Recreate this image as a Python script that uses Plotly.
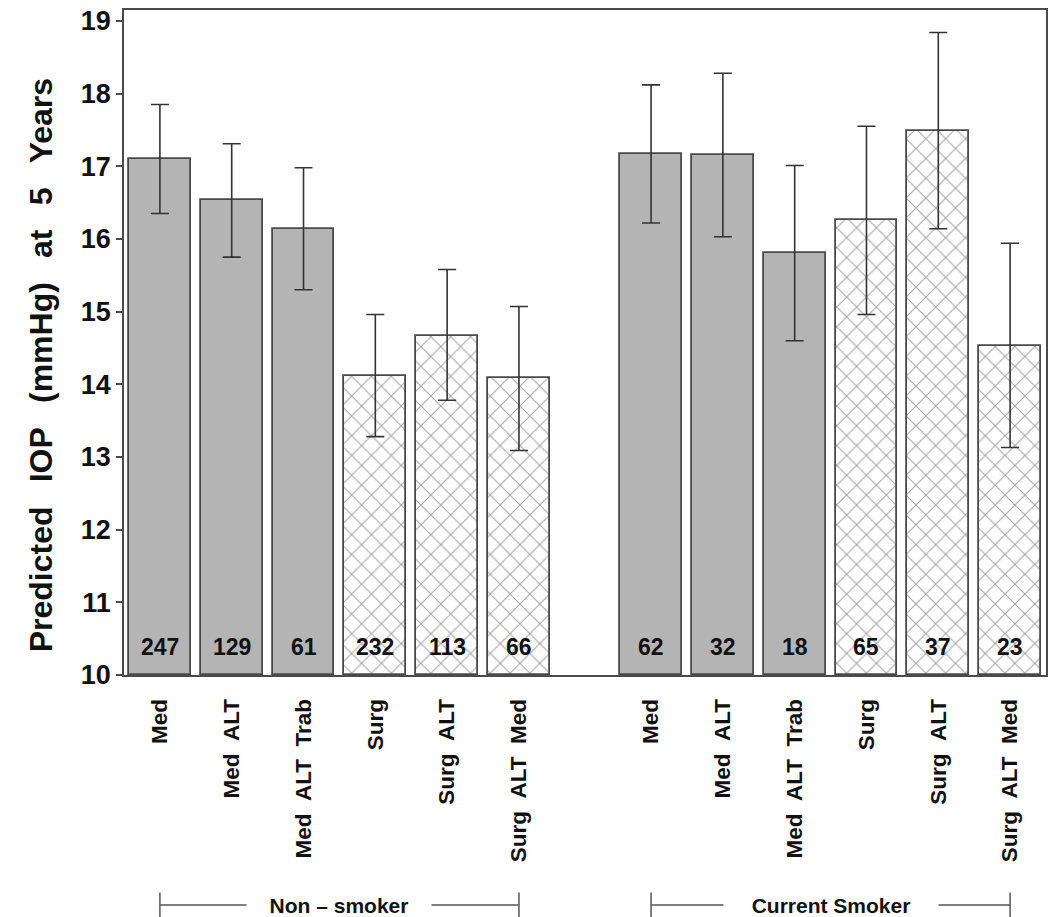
import plotly.graph_objects as go

# ---------------- data ----------------
groups = ["Non – smoker", "Current Smoker"]
treatments = ["Med", "Med ALT", "Med ALT Trab", "Surg", "Surg ALT", "Surg ALT Med"]

nonsmoker_mean = [17.10, 16.53, 16.14, 14.12, 14.67, 14.09]
nonsmoker_lower = [16.35, 15.75, 15.30, 13.28, 13.78, 13.09]
nonsmoker_upper = [17.85, 17.31, 16.98, 14.96, 15.58, 15.07]
nonsmoker_n = [247, 129, 61, 232, 113, 66]

smoker_mean = [17.17, 17.15, 15.80, 16.26, 17.49, 14.53]
smoker_lower = [16.22, 16.03, 14.60, 14.96, 16.14, 13.13]
smoker_upper = [18.12, 18.28, 17.01, 17.55, 18.84, 15.94]
smoker_n = [62, 32, 18, 65, 37, 23]

y_ticks = [10, 11, 12, 13, 14, 15, 16, 17, 18, 19]

# ---------------- layout constants ----------------
GROUP_GAP = 1.84          # extra spacing between the two groups (in bar pitches)
BAR_WIDTH = 0.86
FONT = "Liberation Sans, Arial, sans-serif"
LINE = "#4a4a4a"
SOLID_FILL = "#b4b4b4"

n_t = len(treatments)
x_pos = [i for i in range(n_t)] + [n_t - 1 + GROUP_GAP + i for i in range(n_t)]
means = nonsmoker_mean + smoker_mean
lowers = nonsmoker_lower + smoker_lower
uppers = nonsmoker_upper + smoker_upper
counts = nonsmoker_n + smoker_n
labels = treatments + treatments

is_surg = [t.startswith("Surg") for t in labels]
fill = ["white" if s else SOLID_FILL for s in is_surg]
shapes_pat = ["x" if s else "" for s in is_surg]

fig = go.Figure()
fig.add_trace(go.Bar(
    x=x_pos,
    y=[m - y_ticks[0] for m in means],
    base=y_ticks[0],
    width=BAR_WIDTH,
    marker=dict(
        color=fill,
        line=dict(color=LINE, width=1.8),
        pattern=dict(shape=shapes_pat, fgcolor="#999999", bgcolor="white",
                     size=14, solidity=0.14),
    ),
    error_y=dict(
        type="data", symmetric=False,
        array=[u - m for u, m in zip(uppers, means)],
        arrayminus=[m - l for m, l in zip(means, lowers)],
        color="#333333", thickness=1.6, width=9,
    ),
    showlegend=False,
    hoverinfo="skip",
))

annotations = []
for x, n in zip(x_pos, counts):
    annotations.append(dict(
        x=x, y=10.385, xref="x", yref="y", text=f"<b>{n}</b>", showarrow=False,
        font=dict(family=FONT, size=23, color="#111111"),
    ))

# y axis title
sep = "\u00a0\u00a0\u2009"
annotations.append(dict(
    xref="paper", yref="paper", x=-0.0898, y=0.466,
    text="<b>" + sep.join(["Predicted", "IOP", "(mmHg)", "at", "5", "Years"]) + "</b>",
    textangle=-90, showarrow=False, xanchor="center", yanchor="middle",
    font=dict(family=FONT, size=32, color="#111111"),
))

# group brackets
shapes = []
y_line = -0.3459
y_t0, y_t1 = -0.327, -0.37
group_widths = [184, 214]
for g, name in enumerate(groups):
    xs = x_pos[g * n_t:(g + 1) * n_t]
    x0, x1 = xs[0], xs[-1]
    shapes.append(dict(type="line", xref="x", yref="paper", x0=x0, x1=x1,
                       y0=y_line, y1=y_line, line=dict(color="#555555", width=1.5)))
    for xe in (x0, x1):
        shapes.append(dict(type="line", xref="x", yref="paper", x0=xe, x1=xe,
                           y0=y_t0, y1=y_t1, line=dict(color="#555555", width=1.5)))
    annotations.append(dict(
        x=(x0 + x1) / 2, y=y_line, xref="x", yref="paper",
        text=f"<b>{name}</b>", showarrow=False, bgcolor="white",
        width=group_widths[g], height=20, borderpad=0,
        xanchor="center", yanchor="middle",
        font=dict(family=FONT, size=21, color="#111111"),
    ))

fig.update_layout(
    width=1050, height=917,
    margin=dict(l=124, r=2, t=10, b=242),
    paper_bgcolor="white", plot_bgcolor="white",
    font=dict(family=FONT, color="#111111"),
    bargap=0,
    annotations=annotations,
    shapes=shapes,
)
fig.update_xaxes(
    range=[-0.5, x_pos[-1] + 0.5],
    tickmode="array", tickvals=x_pos,
    ticktext=[t.replace(" ", "\u00a0\u00a0") for t in labels],
    tickangle=-90, ticks="", ticklabelstandoff=13,
    tickfont=dict(family=FONT, size=22.5, color="#111111", weight="bold"),
    showline=True, linecolor=LINE, linewidth=1.8, mirror=True,
    showgrid=False, zeroline=False,
)
fig.update_yaxes(
    range=[10, 19.15],
    tickmode="array", tickvals=y_ticks,
    ticks="outside", ticklen=6, tickcolor=LINE, tickwidth=1.5,
    tickfont=dict(family=FONT, size=27, color="#111111", weight="bold"),
    showline=True, linecolor=LINE, linewidth=1.8, mirror=True,
    showgrid=False, zeroline=False,
)

fig.write_html(
    "out.html",
    config={"displayModeBar": False},
    post_script="document.body.style.margin='0px';document.body.style.overflow='hidden';",
)
